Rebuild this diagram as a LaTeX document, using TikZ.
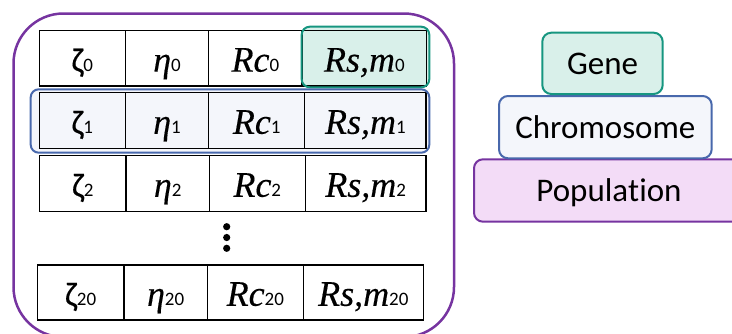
\documentclass[tikz,border=0pt]{standalone}
\usepackage{fontspec}
\setmainfont{Carlito}[Ligatures=NoCommon]
\newfontfamily\symf{Liberation Serif}[FakeBold=0.3]
\newfontfamily\zetaf{Carlito}[FakeBold=0.3]
\definecolor{tealb}{RGB}{22,150,128}
\definecolor{tealf}{RGB}{217,240,234}
\definecolor{blueb}{RGB}{72,104,172}
\definecolor{bluef}{RGB}{244,246,251}
\definecolor{purpb}{RGB}{118,52,160}
\definecolor{purpf}{RGB}{243,220,247}
\newcommand{\ix}[1]{{\fontsize{19}{19}\selectfont #1}}
\newcommand{\bigz}[1]{{\fontsize{34}{34}\selectfont\zetaf #1}}
\newcommand{\bigi}[1]{{\fontsize{36}{36}\selectfont\symf\itshape #1}}
\newcommand{\cellat}[6]{\node[cell, minimum width={(#3-#2)*1pt}, minimum height={(#5-#4)*1pt}] (#1) at ({(#2+#3)/2},{(#4+#5)/2}) {#6};}
\tikzset{
  cell/.style={draw=black, line width=1.2pt, inner sep=0pt, text height=33pt, text depth=6.4pt},
  layer/.style={rounded corners=9pt, line width=2pt, inner sep=0pt, text height=22.5pt, text depth=0pt, font=\fontsize{33}{33}\selectfont},
  hl/.style={rounded corners=8pt, line width=2pt},
  frame/.style={purpb, line width=2.5pt},
}
\begin{document}
\begin{tikzpicture}[x=1pt,y=-1pt]
\useasboundingbox (0,0) rectangle (732,333);
\begin{scope}
\clip (0,0) rectangle (732,333);
% population container (its bottom edge lies below the picture)
\draw[frame] (13.5,287) -- (13.5,63.5) arc[start angle=180, end angle=90, radius=50pt] -- (404,13.5) arc[start angle=90, end angle=0, radius=50pt] -- (454,287) arc[start angle=0, end angle=-90, radius=50pt];
\draw[frame] (13.5,287) arc[start angle=180, end angle=270, radius=50pt];
\end{scope}
% highlight fills
\fill[tealf, rounded corners=8pt] (301.7,26.7) rectangle (429.3,87.3);
\fill[bluef, rounded corners=8pt] (30.7,89.3) rectangle (429.3,152.7);
% row 0
\cellat{a0}{39.3}{125.3}{30.7}{86}{\bigz{ζ}\ix{0}}
\cellat{b0}{125.3}{208.7}{30.7}{86}{\bigi{η}\ix{0}}
\cellat{c0}{208.7}{302}{30.7}{86}{\bigi{Rc}\ix{0}}
\cellat{d0}{302}{426.7}{30.7}{86}{\bigi{Rs,m}\ix{0}}
% row 1
\cellat{a1}{39.3}{125.3}{92.7}{148.3}{\bigz{ζ}\ix{1}}
\cellat{b1}{125.3}{208.7}{92.7}{148.3}{\bigi{η}\ix{1}}
\cellat{c1}{208.7}{304.7}{92.7}{148.3}{\bigi{Rc}\ix{1}}
\cellat{d1}{304.7}{426}{92.7}{148.3}{\bigi{Rs,m}\ix{1}}
% row 2
\cellat{a2}{39.7}{126}{155.7}{211.3}{\bigz{ζ}\ix{2}}
\cellat{b2}{126}{209.3}{155.7}{211.3}{\bigi{η}\ix{2}}
\cellat{c2}{209.3}{305.3}{155.7}{211.3}{\bigi{Rc}\ix{2}}
\cellat{d2}{305.3}{426}{155.7}{211.3}{\bigi{Rs,m}\ix{2}}
% row 20
\cellat{a20}{37.3}{124}{265}{320}{\bigz{ζ}\ix{20}}
\cellat{b20}{124}{207.3}{265}{320}{\bigi{η}\ix{20}}
\cellat{c20}{207.3}{303.3}{265}{320}{\bigi{Rc}\ix{20}}
\cellat{d20}{303.3}{423.3}{265}{320}{\bigi{Rs,m}\ix{20}}
% vertical dots
\fill (226.7,226.7) circle (3.6pt);
\fill (226.7,237.5) circle (3.6pt);
\fill (226.7,248.3) circle (3.6pt);
% highlight borders
\draw[tealb, hl] (301.7,26.7) rectangle (429.3,87.3);
\draw[blueb, hl] (30.7,89.3) rectangle (429.3,152.7);
% legend
\begin{scope}
\clip (0,0) rectangle (732,333);
\node[layer, draw=purpb, fill=purpf, minimum width=270pt, minimum height=62.4pt] (pop) at (609,190.5) {Popula\kern0pt tion};
\end{scope}
\node[layer, draw=blueb, fill=bluef, minimum width=212.7pt, minimum height=62.3pt] (chrom) at (605.35,127.15) {Chromosome};
\node[layer, draw=tealb, fill=tealf, minimum width=120.4pt, minimum height=61.3pt] (gene) at (602.5,63.35) {Gene};
\end{tikzpicture}
\end{document}
